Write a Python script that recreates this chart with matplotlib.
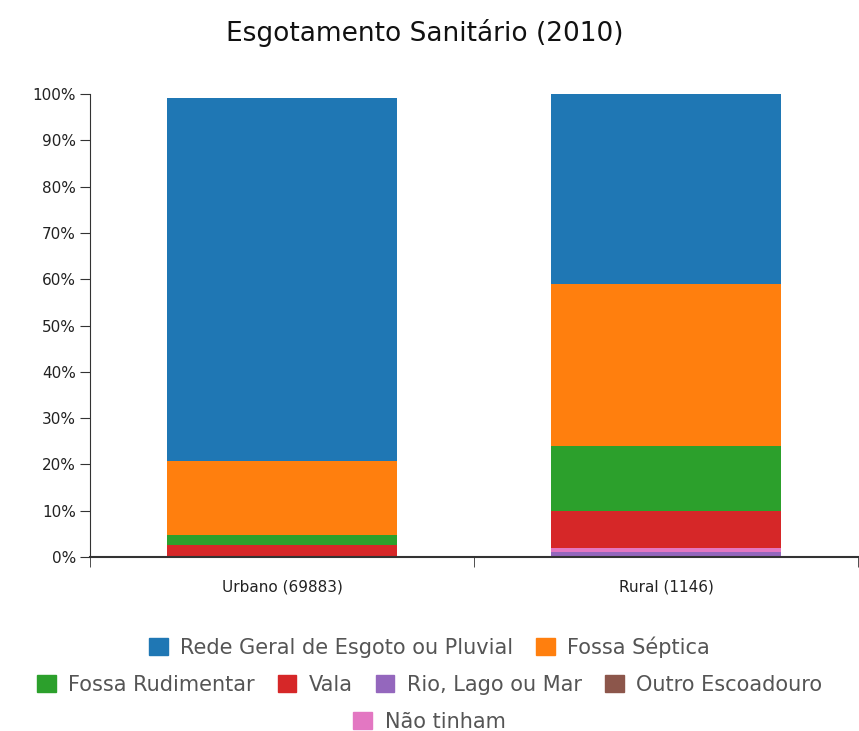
import matplotlib.pyplot as plt
import matplotlib.patches as mpatches
import numpy as np

categories = ['Urbano (69883)', 'Rural (1146)']
series_names = ['Rede Geral de Esgoto ou Pluvial', 'Fossa Séptica', 'Fossa Rudimentar',
                'Vala', 'Rio, Lago ou Mar', 'Outro Escoadouro', 'Não tinham']
colors = ['#1f77b4', '#ff7f0e', '#2ca02c', '#d62728', '#9467bd', '#8c564b', '#e377c2']

# percentages per series, [Urbano, Rural]
rede = [78.4, 41.0]
fossa_septica = [16.0, 35.0]
fossa_rudimentar = [2.1, 14.0]
vala = [2.6, 8.1]
rio = [0.0, 1.1]
outro = [0.0, 0.0]
nao_tinham = [0.0, 0.8]

values = [rede, fossa_septica, fossa_rudimentar, vala, rio, outro, nao_tinham]
# stacking order, bottom to top
stack_order = [4, 6, 5, 3, 2, 1, 0]

fig = plt.figure(figsize=(8.59, 7.31), dpi=100)
ax = fig.add_axes([90/859, 1 - 557/731, 768/859, 463/731])

x = np.arange(len(categories))
bottom = np.zeros(len(categories))
for i in stack_order:
    v = np.array(values[i])
    ax.bar(x, v, 0.6, bottom=bottom, color=colors[i], edgecolor='none')
    bottom += v

ax.set_xlim(-0.5, 1.5)
ax.set_ylim(0, 100)
ax.set_yticks(range(0, 101, 10))
ax.set_yticklabels([f'{t}%' for t in range(0, 101, 10)], fontsize=11, color='#222222')
ax.set_xticks(x)
ax.set_xticklabels(categories, fontsize=11, color='#222222')
ax.tick_params(axis='x', length=0, pad=16)
ax.set_xticks([-0.5, 0.5, 1.5], minor=True)
ax.tick_params(axis='x', which='minor', length=7, direction='out', color='#333333')
ax.tick_params(axis='y', length=7, direction='out', color='#333333', pad=3)
for s in ['top', 'right']:
    ax.spines[s].set_visible(False)
ax.spines['left'].set_color('#333333')
ax.spines['bottom'].set_color('#333333')
ax.spines['bottom'].set_linewidth(1.5)

fig.text(0.495, 1 - 33/731, 'Esgotamento Sanitário (2010)', ha='center', va='center',
         fontsize=19, color='#111111')

rows = [[0, 1], [2, 3, 4, 5], [6]]
row_y = [647, 685, 722]
for r, yy in zip(rows, row_y):
    handles = [mpatches.Patch(color=colors[i], label=series_names[i]) for i in r]
    leg = fig.legend(handles=handles, loc='center', bbox_to_anchor=(0.5, 1 - yy/731),
                     ncol=len(r), frameon=False, fontsize=15, handlelength=0.9,
                     handleheight=0.9, handletextpad=0.6, columnspacing=1.1,
                     borderpad=0)
    for t in leg.get_texts():
        t.set_color('#555555')

plt.savefig('out.png', dpi=100)
